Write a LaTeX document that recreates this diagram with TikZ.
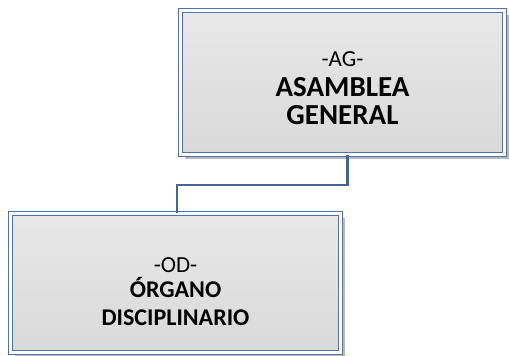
\documentclass[tikz,border=0pt]{standalone}
\usepackage{fontspec}
\setmainfont{Carlito}
\usetikzlibrary{shadows}

\definecolor{bordeazul}{HTML}{5274A8}
\definecolor{lineaazul}{HTML}{44659A}

\newcommand{\negrita}[2]{{\bfseries\fontsize{#1}{#1}\selectfont #2}}

\begin{document}
\begin{tikzpicture}[
            x=1pt, y=-1pt,
            caja/.style={rectangle, draw=bordeazul, line width=1pt, double=white, double distance=2.5pt,
                top color=black!9, bottom color=black!15, align=center,
                font=\fontsize{23}{28}\selectfont,
                drop shadow={shadow xshift=4pt, shadow yshift=-4pt, fill=black!55}},
            conector/.style={draw=lineaazul, line width=2.2pt}
            ]
        \useasboundingbox (0,0) rectangle (509,356);

        \node[caja, minimum width=324pt, minimum height=144pt] (ag) at (342.5,82.5)
            {\rule{0pt}{27pt}-AG-\\[2pt]\negrita{29}{ASAMBLEA}\\\negrita{29}{GENERAL}};
        \node[caja, minimum width=330pt, minimum height=139pt] (od) at (175.5,283)
            {\rule{0pt}{33pt}-OD-\\[-3pt]\negrita{24}{ÓRGANO}\\\negrita{24}{DISCIPLINARIO}};

        % Linea de dependencia
        \draw[conector] ([xshift=5pt]ag.south) -- ++(0,30) -| ([xshift=1.5pt]od.north);
        \end{tikzpicture}
\end{document}
